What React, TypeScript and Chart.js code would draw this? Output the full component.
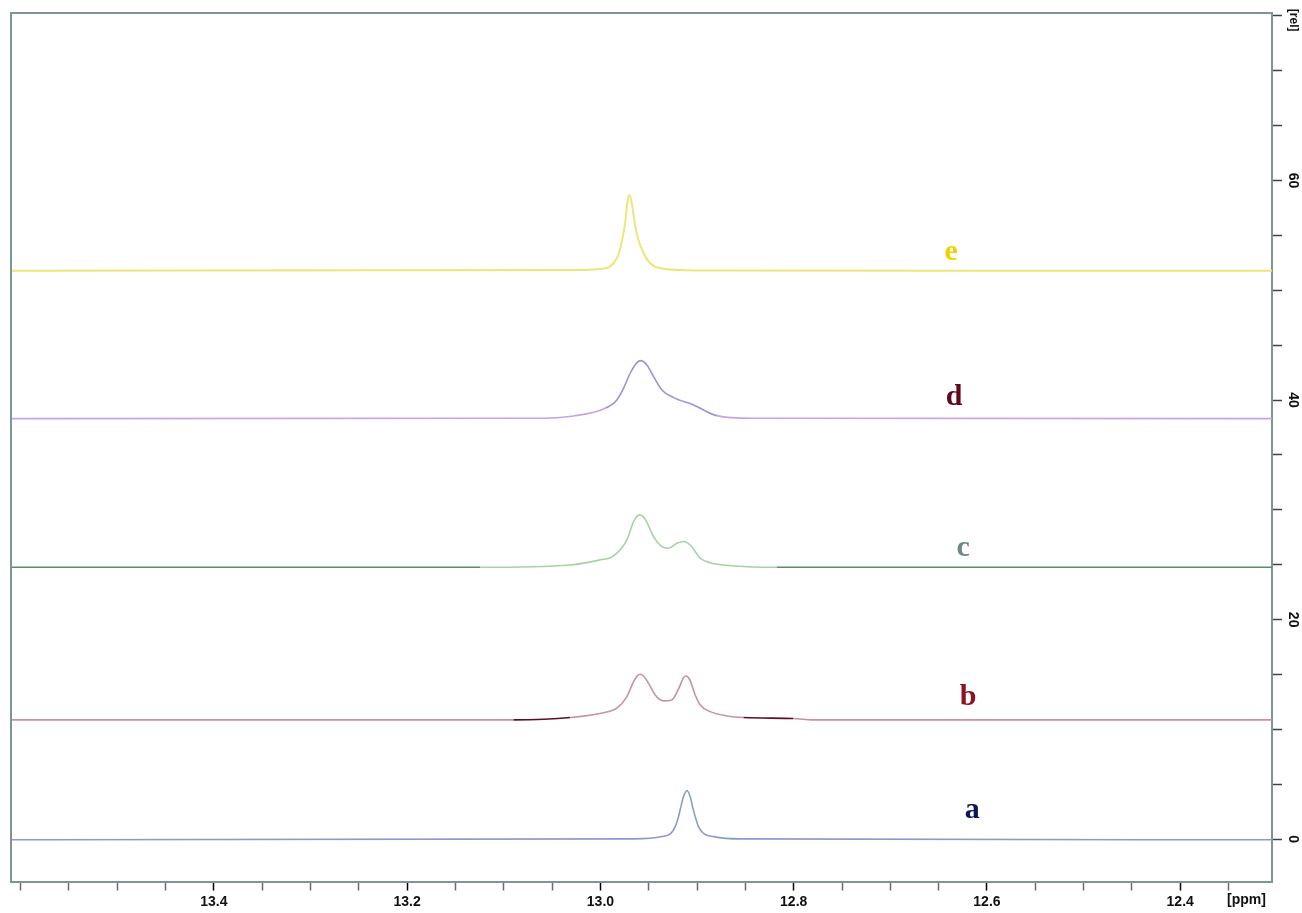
import React, { useEffect, useRef } from "react";
import { Chart, registerables } from "chart.js";

Chart.register(...registerables);

// ---- Data (chemical shift in ppm, intensity in rel. units) ----
const ppmA = [13.61, 12.9657, 12.9364, 12.9271, 12.9226, 12.9192, 12.9167, 12.914, 12.9105, 12.9071, 12.9047, 12.9019, 12.8985, 12.8933, 12.8829, 12.8553, 12.305];
const relA = [-0.05, 0.03, 0.24, 0.54, 1.15, 2.06, 2.97, 3.88, 4.43, 3.88, 2.97, 2.06, 1.15, 0.54, 0.24, 0.03, -0.05];

const ppmB = [13.61, 13.0899, 13.0313, 12.9933, 12.983, 12.9726, 12.9657, 12.9616, 12.9588, 12.9554, 12.9502, 12.9433, 12.9347, 12.9261, 12.9181, 12.914, 12.9116, 12.9078, 12.9019, 12.8967, 12.8864, 12.8691, 12.8519, 12.8002, 12.7795, 12.305];
const relB = [10.87, 10.87, 11.08, 11.59, 11.93, 12.99, 14.36, 14.9, 15.02, 14.87, 14.2, 13.14, 12.6, 12.69, 13.9, 14.72, 14.87, 14.57, 13.14, 12.23, 11.62, 11.23, 11.08, 10.99, 10.87, 10.87];

const ppmC = [13.61, 13.1244, 13.0313, 13.0002, 12.9864, 12.9726, 12.9657, 12.9595, 12.9537, 12.945, 12.9364, 12.9295, 12.9209, 12.914, 12.9071, 12.8967, 12.8864, 12.8726, 12.8174, 12.305];
const relC = [24.77, 24.77, 24.98, 25.44, 25.8, 27.26, 28.93, 29.54, 29.14, 27.56, 26.65, 26.5, 26.96, 27.11, 26.8, 25.59, 25.19, 24.98, 24.77, 24.77];

const ppmD = [13.61, 13.0675, 13.0278, 12.995, 12.983, 12.9761, 12.9692, 12.9623, 12.9581, 12.9519, 12.945, 12.9364, 12.9243, 12.9036, 12.8795, 12.8433, 12.305];
const relD = [38.31, 38.34, 38.55, 39.25, 40.01, 41.07, 42.44, 43.41, 43.59, 43.2, 42.13, 40.92, 40.22, 39.55, 38.58, 38.34, 38.31];

const ppmE = [13.61, 13.0209, 12.995, 12.9864, 12.9809, 12.9768, 12.974, 12.9723, 12.9699, 12.9675, 12.965, 12.9616, 12.9554, 12.9485, 12.9381, 12.9002, 12.305];
const relE = [51.78, 51.85, 52.0, 52.46, 53.37, 54.88, 56.4, 57.92, 58.68, 57.92, 56.4, 54.88, 53.37, 52.46, 52.0, 51.8, 51.78];

// series labels and their anchor (ppm, rel)
const seriesNames = ["a", "b", "c", "d", "e"];
const namePpm = [12.6153, 12.6194, 12.6246, 12.6339, 12.637];
const nameRel = [1.91, 12.23, 25.8, 39.55, 52.77];

// axis ticks
const xTickValues = [13.4, 13.2, 13.0, 12.8, 12.6, 12.4];
const xTickLabels = ["13.4", "13.2", "13.0", "12.8", "12.6", "12.4"];
const xUnitValue = 12.35;
const xUnitLabel = "[ppm]";
const yTickValues = [0, 20, 40, 60];
const yTickLabels = ["0", "20", "40", "60"];
const yUnitValue = 74.6;
const yUnitLabel = "[rel]";

// ---- Styles ----
const FRAME = "#7f9494";
const LINE_COLORS = ["#8c9cc8", "#c890aa", "#5d8c6c", "#c9a2e6", "#ece67a"];
const NAME_COLORS = ["#0e1458", "#8a1424", "#6f8787", "#5e0818", "#f0d200"];

export default function App() {
  const ref = useRef<HTMLCanvasElement>(null);

  useEffect(() => {
    const canvas = ref.current;
    if (!canvas) return;
    const mk = (ppm: number[], rel: number[]) => ppm.map((x, i) => ({ x, y: rel[i] }));
    const mid = (c: any) => (c.p0.parsed.x + c.p1.parsed.x) / 2;

    const overlay = {
      id: "overlay",
      afterDraw(chart: any) {
        const { ctx, chartArea: ca, scales } = chart;
        const xs = scales.x;
        const ys = scales.y;
        ctx.save();
        ctx.strokeStyle = FRAME;
        ctx.lineWidth = 2;
        ctx.beginPath();
        ctx.moveTo(ca.left, ca.bottom);
        ctx.lineTo(ca.left, ca.top);
        ctx.lineTo(ca.right, ca.top);
        ctx.stroke();

        ctx.fillStyle = "#111";
        ctx.font = 'bold 14px "Liberation Sans", Arial, sans-serif';
        ctx.textAlign = "center";
        ctx.textBaseline = "middle";
        yTickValues.forEach((v, i) => {
          ctx.save();
          ctx.translate(ca.right + 21, ys.getPixelForValue(v));
          ctx.rotate(Math.PI / 2);
          ctx.fillText(yTickLabels[i], 0, 0);
          ctx.restore();
        });
        ctx.save();
        ctx.font = 'bold 12px "Liberation Sans", Arial, sans-serif';
        ctx.translate(ca.right + 21, ys.getPixelForValue(yUnitValue));
        ctx.rotate(Math.PI / 2);
        ctx.fillText(yUnitLabel, 0, 0);
        ctx.restore();

        ctx.textBaseline = "top";
        ctx.fillText(xUnitLabel, xs.getPixelForValue(xUnitValue) + 18, ca.bottom + 12);

        ctx.font = 'bold 30px "Liberation Serif", "Times New Roman", serif';
        ctx.textBaseline = "alphabetic";
        seriesNames.forEach((n, i) => {
          ctx.fillStyle = NAME_COLORS[i];
          ctx.fillText(n, xs.getPixelForValue(namePpm[i]), ys.getPixelForValue(nameRel[i]));
        });
        ctx.restore();
      },
    };

    const base = {
      pointRadius: 0,
      borderWidth: 1.6,
      fill: false,
      cubicInterpolationMode: "monotone" as const,
    };

    const chart = new Chart(canvas, {
      type: "line",
      data: {
        datasets: [
          { ...base, label: "a", data: mk(ppmA, relA), borderColor: LINE_COLORS[0] },
          {
            ...base, label: "b", data: mk(ppmB, relB), borderColor: LINE_COLORS[1],
            segment: {
              borderColor: (c: any) => {
                const m = mid(c);
                return (m < 13.09 && m > 13.03) || (m < 12.852 && m > 12.80) ? "#5e0c2c" : LINE_COLORS[1];
              },
            },
          },
          {
            ...base, label: "c", data: mk(ppmC, relC), borderColor: LINE_COLORS[2],
            segment: {
              borderColor: (c: any) => {
                const m = mid(c);
                return m < 13.124 && m > 12.818 ? "#a6d2a6" : LINE_COLORS[2];
              },
            },
          },
          {
            ...base, label: "d", data: mk(ppmD, relD), borderColor: LINE_COLORS[3],
            segment: {
              borderColor: (c: any) => {
                const m = mid(c);
                return m < 13.0 && m > 12.88 ? "#9c92d8" : LINE_COLORS[3];
              },
            },
          },
          { ...base, label: "e", data: mk(ppmE, relE), borderColor: LINE_COLORS[4], borderWidth: 2 },
        ],
      },
      options: {
        animation: false,
        responsive: false,
        maintainAspectRatio: false,
        layout: { padding: { left: 11, top: 13, right: 0, bottom: 0 } },
        plugins: { legend: { display: false }, tooltip: { enabled: false }, title: { display: false } },
        scales: {
          x: {
            type: "linear",
            position: "bottom",
            reverse: true,
            min: 12.305,
            max: 13.61,
            afterFit: (s: any) => { s.height = 31.5; },
            border: { display: true, color: FRAME, width: 2 },
            grid: {
              drawOnChartArea: false,
              drawTicks: true,
              tickLength: 9,
              tickWidth: 1.5,
              tickColor: (c: any) => {
                const v = c.tick ? c.tick.value : 0;
                return xTickValues.some((t) => Math.abs(t - v) < 1e-6) ? "#000" : "#5f6f6f";
              },
            },
            ticks: {
              stepSize: 0.05,
              includeBounds: false,
              autoSkip: false,
              maxRotation: 0,
              minRotation: 0,
              padding: 3,
              color: "#111",
              font: { family: '"Liberation Sans", Arial, sans-serif', size: 14, weight: "bold" },
              callback: (v: any) => {
                const i = xTickValues.findIndex((t) => Math.abs(t - Number(v)) < 1e-6);
                return i >= 0 ? xTickLabels[i] : "";
              },
            },
          },
          y: {
            type: "linear",
            position: "right",
            min: -3.85,
            max: 75.25,
            afterFit: (s: any) => { s.width = 30; },
            border: { display: true, color: FRAME, width: 2 },
            grid: {
              drawOnChartArea: false,
              drawTicks: true,
              tickLength: 10,
              tickWidth: 1.5,
              tickColor: "#3a4444",
            },
            ticks: {
              stepSize: 5,
              includeBounds: false,
              autoSkip: false,
              callback: () => "",
            },
          },
        },
      },
      plugins: [overlay],
    } as any);

    return () => chart.destroy();
  }, []);

  return (
    <canvas
      ref={ref}
      width={1302}
      height={913}
      style={{ position: "fixed", left: 0, top: 0, width: 1302, height: 913, background: "#fff" }}
    />
  );
}
